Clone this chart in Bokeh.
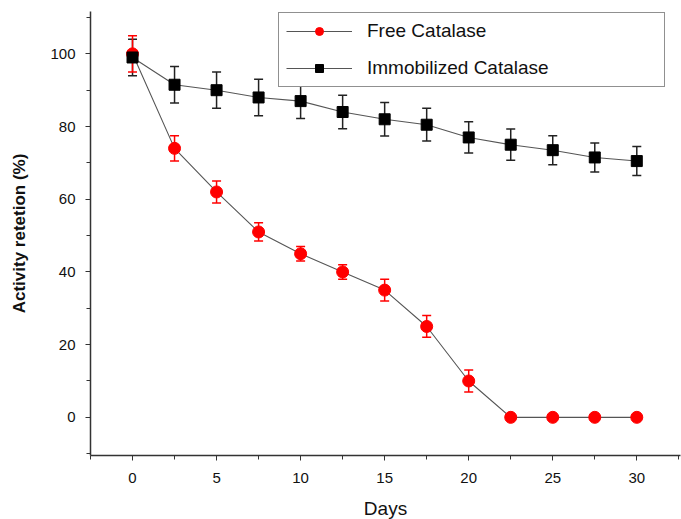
from bokeh.plotting import figure
from bokeh.models import Range1d, Whisker, TeeHead, ColumnDataSource, Legend, LegendItem, FixedTicker
from bokeh.embed import file_html
from bokeh.resources import INLINE

days = [0, 2.5, 5, 7.5, 10, 12.5, 15, 17.5, 20, 22.5, 25, 27.5, 30]
free_vals = [100, 74, 62, 51, 45, 40, 35, 25, 10, 0, 0, 0, 0]
free_err = [5, 3.5, 3, 2.5, 2, 2, 3, 3, 3, 0, 0, 0, 0]
immo_vals = [99, 91.5, 90, 88, 87, 84, 82, 80.5, 77, 75, 73.5, 71.5, 70.5]
immo_err = [5, 5, 5, 5, 4.8, 4.6, 4.6, 4.5, 4.3, 4.3, 4, 4, 4]
x_ticks = [0, 5, 10, 15, 20, 25, 30]
y_ticks = [0, 20, 40, 60, 80, 100]

FONT = "Liberation Sans"

p = figure(width=681, height=519, output_backend="svg", toolbar_location=None,
           x_range=Range1d(-2.5, 32.6), y_range=Range1d(-10.5, 111.65),
           min_border_left=90, min_border_right=1, min_border_top=11, min_border_bottom=64)
p.frame_width = 590
p.frame_height = 444
p.outline_line_color = None
p.grid.visible = False

for ax in (p.xaxis[0], p.yaxis[0]):
    ax.axis_line_color = "#333333"
    ax.axis_line_width = 1.5
    ax.major_tick_line_color = "#333333"
    ax.minor_tick_line_color = "#333333"
    ax.major_tick_out = 5
    ax.major_tick_in = 0
    ax.minor_tick_out = 4
    ax.minor_tick_in = 0
    ax.major_label_text_font = FONT
    ax.major_label_text_font_size = "15px"
    ax.major_label_text_color = "#111111"
    ax.axis_label_text_color = "#111111"
    ax.axis_label_text_font = FONT

p.xaxis.ticker = FixedTicker(ticks=x_ticks, minor_ticks=[-2.5 + 2.5 * i for i in range(15)])
p.yaxis.ticker = FixedTicker(ticks=y_ticks, minor_ticks=[-10 + 10 * i for i in range(13)])
p.xaxis.axis_label = "Days"
p.xaxis.axis_label_text_font_style = "normal"
p.xaxis.axis_label_text_font_size = "19px"
p.xaxis.axis_label_standoff = 12
p.yaxis.axis_label = "Activity retetion (%)"
p.yaxis.axis_label_text_font_style = "bold"
p.yaxis.axis_label_text_font_size = "17px"
p.yaxis.axis_label_standoff = 18
p.xaxis.major_label_standoff = 12
p.yaxis.major_label_standoff = 10

free_src = ColumnDataSource(dict(x=days, y=free_vals))
fe = [i for i, e in enumerate(free_err) if e > 0]
free_err_src = ColumnDataSource(dict(x=[days[i] for i in fe],
                                     lo=[free_vals[i] - free_err[i] for i in fe],
                                     hi=[free_vals[i] + free_err[i] for i in fe]))
immo_src = ColumnDataSource(dict(x=days, y=immo_vals,
                                 lo=[v - e for v, e in zip(immo_vals, immo_err)],
                                 hi=[v + e for v, e in zip(immo_vals, immo_err)]))

l1 = p.line("x", "y", source=free_src, line_color="#555555", line_width=1.1)
l2 = p.line("x", "y", source=immo_src, line_color="#555555", line_width=1.1)

w2 = Whisker(source=immo_src, base="x", upper="hi", lower="lo", line_color="#222222", line_width=1.5,
             upper_head=TeeHead(size=9, line_color="#222222", line_width=1.5),
             lower_head=TeeHead(size=9, line_color="#222222", line_width=1.5))
w1 = Whisker(source=free_err_src, base="x", upper="hi", lower="lo", line_color="red", line_width=1.5,
             upper_head=TeeHead(size=9, line_color="red", line_width=1.5),
             lower_head=TeeHead(size=9, line_color="red", line_width=1.5))
p.add_layout(w2)
p.add_layout(w1)

s1 = p.scatter("x", "y", source=free_src, marker="circle", size=12, fill_color="red", line_color="red")
s2 = p.scatter("x", "y", source=immo_src, marker="square", size=11, fill_color="black", line_color="black")

# legend proxies (smaller markers)
ls1 = p.scatter(x=[-100], y=[-100], marker="circle", size=9, fill_color="red", line_color="red")
ls2 = p.scatter(x=[-100], y=[-100], marker="square", size=7, fill_color="black", line_color="black")

legend = Legend(items=[LegendItem(label="Free Catalase", renderers=[l1, ls1]),
                       LegendItem(label="Immobilized Catalase", renderers=[l2, ls2])],
                location=(188, 368))
legend.label_text_font = FONT
legend.label_text_font_size = "19px"
legend.label_text_color = "#111111"
legend.glyph_width = 66
legend.glyph_height = 20
legend.label_height = 20
legend.label_standoff = 15
legend.spacing = 15
legend.padding = 7
legend.margin = 0
legend.border_line_color = "#222222"
legend.border_line_width = 1.2
legend.label_width = 290
legend.background_fill_alpha = 1
p.add_layout(legend, "center")

open("out.html", "w").write(file_html(p, INLINE))
